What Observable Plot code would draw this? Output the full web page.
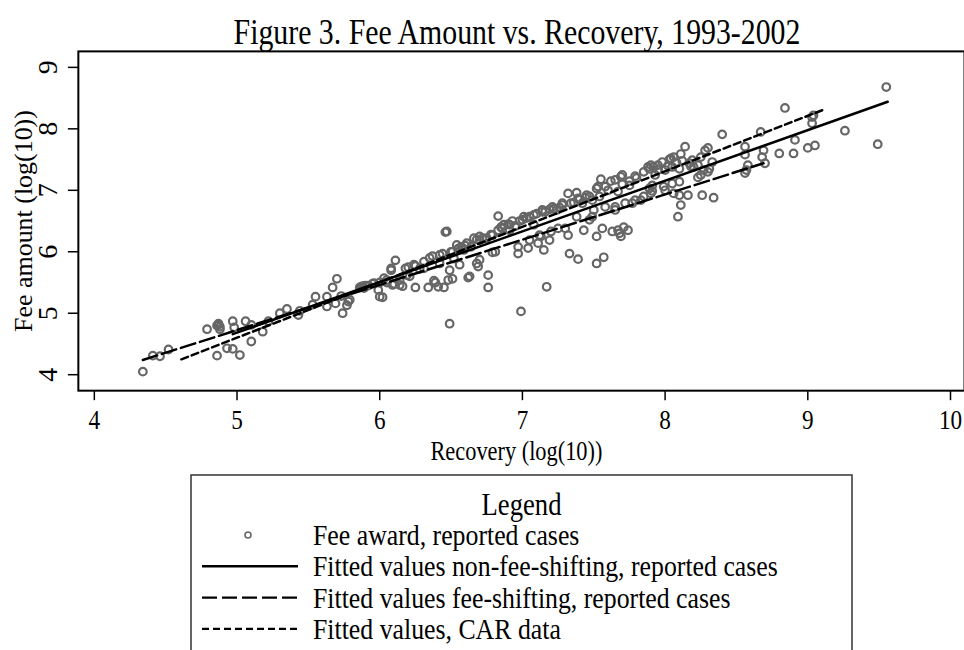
<!DOCTYPE html>
<html>
<head>
<meta charset="utf-8">
<script src="https://cdn.jsdelivr.net/npm/d3@7"></script>
<script src="https://cdn.jsdelivr.net/npm/@observablehq/plot@0.6"></script>
<style>
  html, body { margin: 0; padding: 0; overflow: hidden; background: #fff; }
  #wrap { position: relative; width: 964px; height: 650px; overflow: hidden; background: #fff; }
  #chart { position: absolute; left: 0; top: 0; }
  #over { position: absolute; left: 0; top: 0; }
  text { font-family: "Liberation Serif", "Times New Roman", serif; }
</style>
</head>
<body>
<div id="wrap">
  <div id="chart"></div>
  <svg id="over" width="964" height="650"></svg>
</div>
<script>
// ---- Data ----
const recovery = [
  4.34,4.41,4.46,4.52,4.79,4.86,4.87,4.88,4.87,4.88,4.86,
  4.93,4.97,4.97,4.98,5.02,5.06,5.10,5.10,5.18,5.22,5.30,
  5.35,5.43,5.44,5.53,5.55,5.63,5.63,5.67,5.70,5.69,5.73,5.74,5.78,5.79,5.77,
  5.86,5.88,5.89,5.90,5.87,5.96,5.99,6.00,6.02,6.03,6.05,6.08,6.08,6.09,6.10,6.11,6.14,6.14,6.16,6.18,6.19,6.21,6.24,6.25,6.25,6.28,6.31,6.31,6.34,6.37,6.38,6.39,6.41,6.42,6.42,6.44,6.46,6.47,6.45,6.48,6.49,6.49,6.51,6.51,6.52,6.54,6.56,6.57,6.59,6.58,6.61,6.62,6.63,6.64,6.66,6.68,6.69,6.70,6.70,6.70,6.75,6.76,6.76,6.79,6.79,6.81,6.83,6.83,6.86,6.87,6.91,6.91,6.95,6.97,6.97,6.99,7.00,7.01,7.04,7.05,7.05,7.08,7.10,7.11,7.12,7.13,7.14,7.14,7.15,7.17,7.19,7.19,7.20,7.21,7.24,7.25,7.28,7.28,7.30,7.32,7.32,7.33,7.34,7.38,7.38,7.39,7.39,7.42,7.43,7.45,7.47,7.49,7.49,7.50,7.52,7.52,7.52,7.53,7.54,7.55,7.56,7.57,7.58,7.58,7.62,7.63,7.65,7.65,7.65,7.67,7.67,7.68,7.69,7.69,7.70,7.71,7.72,7.74,7.75,7.77,7.79,7.79,7.83,7.85,7.88,7.89,7.89,7.90,7.90,7.91,7.91,7.92,7.93,7.95,7.95,7.98,7.99,8.00,8.00,8.03,8.04,8.05,8.05,8.06,8.06,8.09,8.10,8.10,8.10,8.11,8.11,8.14,8.16,8.17,8.18,8.19,8.20,8.23,8.23,8.25,8.25,8.26,8.27,8.28,8.30,8.30,8.31,8.33,8.34,8.40,8.56,8.56,8.56,8.57,8.58,8.67,8.68,8.69,8.70,8.80,8.84,8.90,8.91,9.00,9.03,9.03,9.04,9.05,9.26,9.49,9.55,
  6.20,6.35,6.50,6.55,6.60,6.68,6.72,6.78,6.85,6.90,6.93,6.98,7.03,7.08,7.16,7.22,7.26,7.36,7.40,7.44,7.47,7.60,7.70,7.75,7.80,7.85,8.02,8.08,8.12,5.92,5.95,6.00,6.05
];
const feeAmount = [
  4.05,4.31,4.30,4.41,4.74,4.80,4.83,4.78,4.81,4.74,4.31,
  4.43,4.42,4.87,4.77,4.32,4.87,4.81,4.54,4.70,4.87,5.00,
  5.07,4.97,5.04,5.14,5.27,5.11,5.27,5.42,5.56,5.16,5.28,5.00,5.19,5.22,5.13,
  5.42,5.44,5.41,5.45,5.43,5.49,5.38,5.27,5.26,5.57,5.54,5.70,5.73,5.46,5.48,5.86,5.54,5.46,5.44,5.73,5.62,5.60,5.79,5.42,5.77,5.72,5.84,5.73,5.42,5.93,5.53,5.50,5.43,5.81,5.95,5.97,6.32,6.33,5.42,5.54,5.70,4.83,5.56,6.00,5.89,6.11,5.79,6.08,6.03,6.06,6.14,5.58,5.60,6.08,6.22,5.81,5.76,6.25,5.87,6.19,6.22,5.62,5.42,5.99,6.27,6.00,6.58,6.35,6.38,6.44,6.35,6.44,6.42,5.97,6.08,5.03,6.52,6.57,6.06,6.57,6.19,6.44,6.62,6.14,6.27,6.25,6.65,6.68,6.03,5.43,6.69,6.19,6.33,6.73,6.68,6.38,6.76,6.79,6.38,6.95,6.27,5.97,6.79,6.96,6.57,6.87,5.88,6.79,6.35,6.92,6.52,6.57,6.84,6.68,5.81,6.25,7.03,7.06,6.90,7.18,6.38,5.91,7.06,6.73,7.15,6.33,6.68,7.17,6.73,6.98,6.35,6.30,7.22,6.25,7.25,6.40,6.79,6.35,7.08,6.79,7.23,6.84,6.84,6.90,7.38,7.35,7.03,7.41,6.95,6.99,7.08,7.38,7.25,7.41,7.33,7.46,7.06,7.00,7.33,7.50,7.52,7.11,7.38,7.54,6.95,6.57,7.14,7.35,6.92,6.76,7.59,7.71,6.92,7.44,7.39,7.49,7.38,7.41,7.21,7.54,7.25,6.92,7.33,7.65,7.69,7.30,7.35,7.46,6.88,7.91,7.71,7.58,7.28,7.33,7.41,7.95,7.54,7.65,7.44,7.60,8.34,7.60,7.82,7.69,8.09,8.19,8.22,7.73,7.97,7.75,8.68,
  5.75,5.90,6.00,6.05,6.10,6.20,6.22,6.28,6.40,6.45,6.50,6.50,6.55,6.60,6.65,6.70,6.72,6.80,6.85,6.88,6.90,7.00,7.10,7.15,7.20,7.30,7.40,7.45,7.48,5.45,5.48,5.50,5.50
];
// Fitted lines: endpoints
const nonFeeX = [4.97, 9.56], nonFeeY = [4.66, 8.44];
const feeShiftX = [4.34, 8.69], feeShiftY = [4.24, 7.44];
const carX = [4.61, 9.12], carY = [4.25, 8.32];
const xTicks = [4, 5, 6, 7, 8, 9, 10];
const yTicks = [4, 5, 6, 7, 8, 9];

const points = recovery.map((x, i) => ({x, y: feeAmount[i]}));
const FONT = '"Liberation Serif", "Times New Roman", serif';

const chart = Plot.plot({
  width: 966,
  height: 470,
  marginTop: 51,
  marginBottom: 79,
  marginLeft: 78,
  marginRight: 0,
  style: {fontFamily: FONT, background: "transparent", overflow: "visible"},
  x: {domain: [3.888, 10.098]},
  y: {domain: [3.74, 9.26]},
  marks: [
    Plot.dot(points, {x: "x", y: "y", r: 3.8, stroke: "#666", strokeWidth: 2.2, fill: "none"}),
    Plot.line({length: 2}, {x: nonFeeX, y: nonFeeY, stroke: "black", strokeWidth: 2.5}),
    Plot.line({length: 2}, {x: feeShiftX, y: feeShiftY, stroke: "black", strokeWidth: 2.5, strokeDasharray: "15,5"}),
    Plot.line({length: 2}, {x: carX, y: carY, stroke: "black", strokeWidth: 2.5, strokeDasharray: "7,4"}),
    Plot.frame({stroke: "black", strokeWidth: 2}),
    Plot.axisX(xTicks, {tickSize: 10, tickPadding: 9, fontSize: 28, tickFormat: d => String(d), label: null, stroke: "black", strokeWidth: 1.5}),
    Plot.axisY(yTicks, {tickSize: 10, tickFormat: () => "", label: null, stroke: "black", strokeWidth: 1.5}),
    // y tick labels, rotated like the reference
    Plot.text(yTicks, {y: d => d, text: d => String(d), frameAnchor: "left", rotate: -90, textAnchor: "middle", lineAnchor: "bottom", dx: -21, fontSize: 28, fill: "black"}),
    Plot.text(["Recovery (log(10))"], {frameAnchor: "bottom", lineAnchor: "bottom", dx: -5, dy: 69, fontSize: 27, fill: "black"}),
    Plot.text(["Fee amount (log(10))"], {frameAnchor: "left", textAnchor: "middle", lineAnchor: "bottom", rotate: -90, dx: -46, fontSize: 26, fill: "black"})
  ]
});
document.getElementById("chart").appendChild(chart);

// Narrow the horizontal texts (the reference uses a condensed serif look)
d3.select(chart).selectAll("text").each(function () {
  const t = d3.select(this);
  const tr = t.attr("transform") || "";
  if (tr.includes("rotate")) return;
  const s = 0.83;
  if (tr) {
    t.attr("transform", tr + ` scale(${s},1)`);
  } else {
    const x = +t.attr("x") || 0;
    t.attr("transform", `translate(${x},0) scale(${s},1) translate(${-x},0)`);
  }
});

// ---- Title and legend overlay ----
const svg = d3.select("#over");
function narrowText(g, x, y, size, s, anchor, str) {
  return g.append("text")
    .attr("transform", `translate(${x},${y}) scale(${s},1)`)
    .attr("text-anchor", anchor)
    .attr("font-size", size)
    .attr("fill", "black")
    .text(str);
}
narrowText(svg, 517, 44, 35, 0.852, "middle", "Figure 3. Fee Amount vs. Recovery, 1993-2002");

const legendItems = [
  {label: "Fee award, reported cases", type: "dot"},
  {label: "Fitted values non-fee-shifting, reported cases", type: "line", dash: null},
  {label: "Fitted values fee-shifting, reported cases", type: "line", dash: "15,5"},
  {label: "Fitted values, CAR data", type: "line", dash: "7,4"}
];
const lg = svg.append("g");
lg.append("rect").attr("x", 191).attr("y", 475).attr("width", 661).attr("height", 220)
  .attr("fill", "white").attr("stroke", "#333").attr("stroke-width", 1.5);
narrowText(lg, 521.5, 515, 31, 0.86, "middle", "Legend");
legendItems.forEach((d, i) => {
  const cy = 535 + i * 31.3;
  if (d.type === "dot") {
    lg.append("circle").attr("cx", 248).attr("cy", cy).attr("r", 3)
      .attr("fill", "none").attr("stroke", "#666").attr("stroke-width", 1.6);
  } else {
    const l = lg.append("line").attr("x1", 202).attr("x2", 298).attr("y1", cy).attr("y2", cy)
      .attr("stroke", "black").attr("stroke-width", 2.4);
    if (d.dash) l.attr("stroke-dasharray", d.dash);
  }
  narrowText(lg, 313, cy + 10, 30, 0.86, "start", d.label);
});
</script>
</body>
</html>
